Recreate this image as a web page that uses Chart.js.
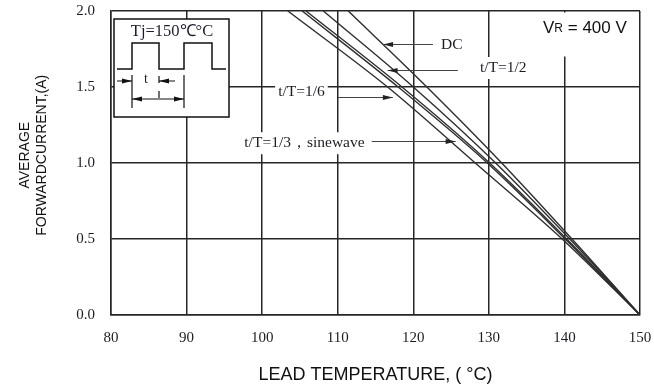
<!DOCTYPE html>
<html>
<head>
<meta charset="utf-8">
<script src="https://cdn.jsdelivr.net/npm/chart.js@4/dist/chart.umd.min.js"></script>
<style>
  body { margin: 0; background: #fff; }
  #wrap { width: 654px; height: 391px; }
</style>
</head>
<body>
<div id="wrap"><canvas id="derating" width="654" height="391"></canvas></div>
<script>
// forward current levels (A) where each curve was read
const currents = [2.0, 1.5, 1.0, 0.5, 0.0];
// lead temperature (°C) of each curve at those currents
const tempDC = [111.4, 121.8, 131.7, 141.0, 150];
const tempHalf = [108.1, 120.0, 130.9, 140.7, 150];
const tempThird = [105.8, 118.5, 130.1, 140.3, 150];
const tempSine = [105.3, 118.0, 129.8, 140.1, 150];
const tempSixth = [103.4, 116.6, 128.2, 139.7, 150];

const seriesNames = ["DC", "t/T=1/2", "t/T=1/3", "sinewave", "t/T=1/6"];
const seriesTemps = [tempDC, tempHalf, tempThird, tempSine, tempSixth];

const xTicks = [80, 90, 100, 110, 120, 130, 140, 150];
const yTicks = [0.0, 0.5, 1.0, 1.5, 2.0];

const serif = "'Liberation Serif', 'Times New Roman', serif";
const sans = "'Liberation Sans', Arial, sans-serif";
const ink = "#1c1c24";

// label / arrow placement in data units (temperature, current)
const notes = [
  { text: "DC", tx: 125.1, ty: 1.78, from: 122.6, to: 116.0, ay: 1.783 },
  { text: "t/T=1/2", tx: 131.9, ty: 1.625, from: 125.9, to: 116.6, ay: 1.61 },
  { text: "t/T=1/6", tx: 105.2, ty: 1.47, from: 110.0, to: 117.3, ay: 1.434 },
  { text: "t/T=1/3\uff0csinewave", tx: 105.6, ty: 1.13, from: 114.5, to: 125.6, ay: 1.145 },
];

function arrowHead(ctx, x, y, dir) {
  ctx.beginPath();
  ctx.moveTo(x, y);
  ctx.lineTo(x - dir * 10, y - 2.5);
  ctx.lineTo(x - dir * 10, y + 2.5);
  ctx.closePath();
  ctx.fill();
}

const notesPlugin = {
  id: "notes",
  beforeDatasetsDraw(chart) {
    const { ctx, chartArea: a, scales: { x, y } } = chart;
    ctx.save();
    ctx.fillStyle = "#fff";
    ctx.font = "15.5px " + serif;
    // white backing behind labels hides the grid
    notes.forEach((n) => {
      const w = ctx.measureText(n.text).width;
      const cx = x.getPixelForValue(n.tx);
      const cy = y.getPixelForValue(n.ty);
      ctx.fillRect(cx - w / 2 - 3, cy - 11, w + 6, 22);
    });
    ctx.fillRect(a.right - 108, a.top + 1.5, 106, 44);
    ctx.fillRect(a.left + 3, a.top + 8, 115, 98);
    ctx.restore();
  },
  afterDatasetsDraw(chart) {
    const { ctx, chartArea: a, scales: { x, y } } = chart;
    ctx.save();
    ctx.textBaseline = "middle";
    ctx.textAlign = "center";
    ctx.font = "15.5px " + serif;
    notes.forEach((n) => {
      ctx.fillStyle = ink;
      ctx.fillText(n.text, x.getPixelForValue(n.tx), y.getPixelForValue(n.ty));
      const x1 = x.getPixelForValue(n.from);
      const x2 = x.getPixelForValue(n.to);
      const ay = Math.round(y.getPixelForValue(n.ay)) + 0.5;
      ctx.strokeStyle = "#444";
      ctx.lineWidth = 1.2;
      ctx.beginPath();
      ctx.moveTo(x1, ay);
      ctx.lineTo(x2, ay);
      ctx.stroke();
      ctx.fillStyle = "#222";
      arrowHead(ctx, x2, ay, x2 > x1 ? 1 : -1);
    });

    // reverse voltage note
    ctx.textAlign = "left";
    ctx.fillStyle = "#111";
    let vx = a.right - 97;
    const vy = a.top + 17;
    ctx.font = "17px " + sans;
    ctx.fillText("V", vx, vy);
    vx += ctx.measureText("V").width;
    ctx.font = "12px " + sans;
    ctx.fillText("R", vx, vy + 1);
    vx += ctx.measureText("R").width;
    ctx.font = "17px " + sans;
    ctx.fillText(" = 400 V", vx, vy);

    // inset with pulse waveform
    const L = a.left, T = a.top;
    ctx.strokeStyle = "#111";
    ctx.lineWidth = 1.5;
    ctx.strokeRect(L + 3, T + 8, 115, 98);
    ctx.textAlign = "center";
    ctx.font = "16.5px " + serif;
    ctx.fillStyle = "#1c1c30";
    ctx.fillText("Tj=150\u2103\u00b0C", L + 61, T + 21);
    ctx.beginPath();
    ctx.moveTo(L + 6, T + 58);
    ctx.lineTo(L + 21, T + 58);
    ctx.lineTo(L + 21, T + 32);
    ctx.lineTo(L + 48, T + 32);
    ctx.lineTo(L + 48, T + 58);
    ctx.lineTo(L + 73, T + 58);
    ctx.lineTo(L + 73, T + 32);
    ctx.lineTo(L + 101, T + 32);
    ctx.lineTo(L + 101, T + 58);
    ctx.lineTo(L + 115, T + 58);
    ctx.stroke();
    ctx.lineWidth = 1.2;
    ctx.beginPath();
    ctx.moveTo(L + 21, T + 64); ctx.lineTo(L + 21, T + 97);
    ctx.moveTo(L + 73, T + 64); ctx.lineTo(L + 73, T + 97);
    ctx.moveTo(L + 48, T + 65); ctx.lineTo(L + 48, T + 72);
    ctx.moveTo(L + 6, T + 70); ctx.lineTo(L + 21, T + 70);
    ctx.moveTo(L + 64, T + 70); ctx.lineTo(L + 48, T + 70);
    ctx.moveTo(L + 21, T + 88); ctx.lineTo(L + 73, T + 88);
    ctx.moveTo(L + 48, T + 80); ctx.lineTo(L + 48, T + 87);
    ctx.stroke();
    ctx.fillStyle = "#111";
    arrowHead(ctx, L + 21, T + 70, 1);
    arrowHead(ctx, L + 48, T + 70, -1);
    arrowHead(ctx, L + 21, T + 88, -1);
    arrowHead(ctx, L + 73, T + 88, 1);
    ctx.font = "14px " + serif;
    ctx.fillStyle = "#1c1c30";
    ctx.fillText("t", L + 35, T + 68);
    ctx.restore();
  },
};

const datasets = seriesNames.map((name, i) => ({
  label: name,
  data: seriesTemps[i].map((t, k) => ({ x: t, y: currents[k] })),
  showLine: true,
  borderColor: "#2e2e2e",
  borderWidth: 1.4,
  pointRadius: 0,
  cubicInterpolationMode: "monotone",
}));

new Chart(document.getElementById("derating").getContext("2d"), {
  type: "scatter",
  data: { datasets },
  options: {
    responsive: false,
    animation: false,
    devicePixelRatio: 1,
    layout: { padding: { left: 0, right: 14, top: 11, bottom: 0 } },
    plugins: { legend: { display: false }, tooltip: { enabled: false } },
    scales: {
      x: {
        type: "linear",
        min: xTicks[0],
        max: xTicks[xTicks.length - 1],
        afterBuildTicks: (s) => { s.ticks = xTicks.map((v) => ({ value: v })); },
        afterFit: (s) => {
          s.height = 76;
          s.paddingLeft = 0;
          s.paddingRight = 0;
        },
        grid: { color: "#262626", lineWidth: 1.5, drawTicks: false },
        border: { color: "#262626", width: 1.5 },
        ticks: { color: ink, padding: 14, font: { family: serif, size: 15 } },
        title: {
          display: true,
          text: "LEAD TEMPERATURE, ( \u00b0C)",
          color: "#111",
          font: { family: sans, size: 18 },
          padding: { top: 0, bottom: 5 },
        },
      },
      y: {
        min: yTicks[0],
        max: yTicks[yTicks.length - 1],
        afterBuildTicks: (s) => { s.ticks = yTicks.map((v) => ({ value: v })); },
        afterFit: (s) => {
          s.width = 111;
          s.paddingTop = 0;
          s.paddingBottom = 0;
        },
        grid: { color: "#262626", lineWidth: 1.5, drawTicks: false },
        border: { color: "#262626", width: 1.5 },
        ticks: {
          color: ink,
          padding: 16,
          font: { family: serif, size: 15 },
          callback: (v) => Number(v).toFixed(1),
        },
        title: {
          display: true,
          // leading spaces nudge the rotated title up a little
          text: ["    AVERAGE", "    FORWARDCURRENT,(A)"],
          color: "#111",
          font: { family: sans, size: 14, lineHeight: 1.25 },
          padding: { top: 16, bottom: 0 },
        },
      },
    },
  },
  plugins: [notesPlugin],
});
</script>
</body>
</html>
